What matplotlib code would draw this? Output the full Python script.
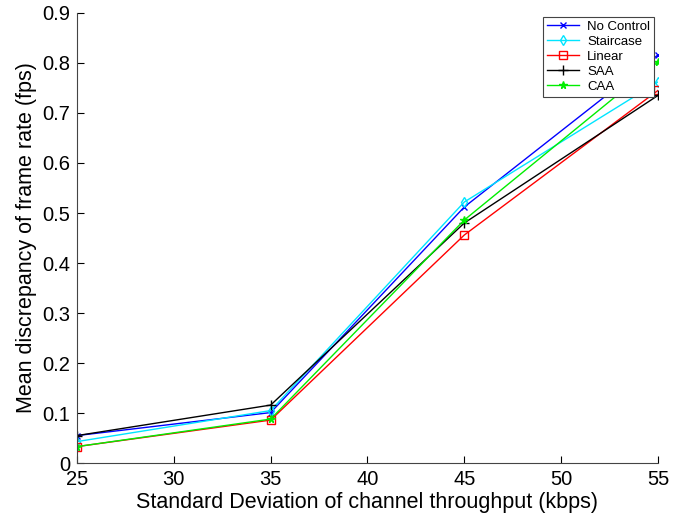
import matplotlib
matplotlib.use("Agg")
import matplotlib.pyplot as plt

plt.rcParams['font.family'] = ['Liberation Sans', 'DejaVu Sans']

# Standard deviation of channel throughput (kbps)
throughput_sd = [25, 35, 45, 55]

# Mean discrepancy of frame rate (fps) per control scheme
no_control = [0.055, 0.101, 0.512, 0.816]
staircase = [0.043, 0.105, 0.522, 0.762]
linear = [0.033, 0.086, 0.456, 0.745]
saa = [0.055, 0.116, 0.480, 0.735]
caa = [0.033, 0.088, 0.486, 0.802]

fig = plt.figure(figsize=(6.94, 5.18), dpi=100)
ax = fig.add_axes([0.111, 0.106, 0.837, 0.869])

ax.plot(throughput_sd, no_control, color='#0000ff', marker='x', markersize=5,
        linewidth=1, label='No Control')
ax.plot(throughput_sd, staircase, color='#00e5ff', marker='d', markersize=5,
        markerfacecolor='none', linewidth=1, label='Staircase')
ax.plot(throughput_sd, linear, color='#ff0000', marker='s', markersize=5.5,
        markerfacecolor='none', linewidth=1, label='Linear')
ax.plot(throughput_sd, saa, color='black', marker='+', markersize=7,
        linewidth=1, label='SAA')
ax.plot(throughput_sd, caa, color='#00ee00', marker='*', markersize=5.5,
        linewidth=1, label='CAA')

ax.set_xlim(25, 55)
ax.set_ylim(0, 0.9)
ax.set_xticks([25, 30, 35, 40, 45, 50, 55])
ax.set_yticks([0, 0.1, 0.2, 0.3, 0.4, 0.5, 0.6, 0.7, 0.8, 0.9])
ax.set_yticklabels(['0', '0.1', '0.2', '0.3', '0.4', '0.5', '0.6', '0.7', '0.8', '0.9'])
ax.tick_params(direction='in', labelsize=14.5, length=5, width=0.8, pad=5)

ax.spines['top'].set_visible(False)
ax.spines['right'].set_visible(False)
for side in ('left', 'bottom'):
    ax.spines[side].set_color('#444444')
    ax.spines[side].set_linewidth(0.8)

ax.set_xlabel('Standard Deviation of channel throughput (kbps)', fontsize=15.5,
              labelpad=2)
ax.set_ylabel('Mean discrepancy of frame rate (fps)', fontsize=15.5, labelpad=4)

leg = ax.legend(loc='upper right', fontsize=9.5, fancybox=False, framealpha=1,
                edgecolor='#444444', borderaxespad=0.3, handlelength=2.4,
                labelspacing=0.2, borderpad=0.3, handletextpad=0.6)
leg.get_frame().set_linewidth(0.8)

fig.savefig('out.png', dpi=100)
